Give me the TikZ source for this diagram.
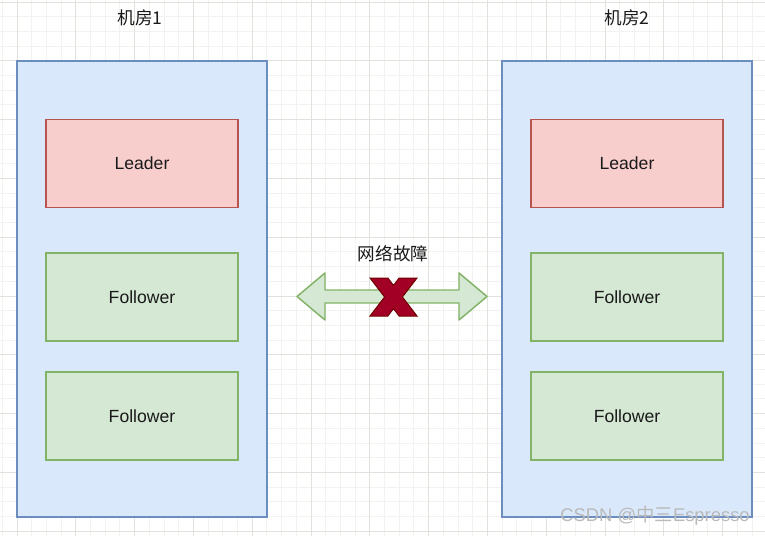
\documentclass[tikz,border=0pt]{standalone}
\usepackage{fontspec}
\setmainfont{Liberation Sans}
\newfontfamily\cjk{Noto Sans CJK SC}
\usetikzlibrary{positioning}
\definecolor{roomfill}{HTML}{DAE8FC}
\definecolor{roomline}{HTML}{6C8EBF}
\definecolor{ldrfill}{HTML}{F8CECC}
\definecolor{ldrline}{HTML}{B85450}
\definecolor{flwfill}{HTML}{D5E8D4}
\definecolor{flwline}{HTML}{82B366}
\definecolor{xfill}{HTML}{A20025}
\definecolor{xline}{HTML}{6F0000}
\definecolor{gridminor}{HTML}{F2F2EF}
\definecolor{gridmajor}{HTML}{E2E2DC}
\definecolor{ink}{HTML}{1A1A1A}

\begin{document}
\begin{tikzpicture}[x=0.75pt,y=-0.75pt,font=\fontsize{13.2}{16}\selectfont,text=ink,
  room/.style={draw=roomline,fill=roomfill,line width=1.1pt,minimum width=187.5pt,minimum height=342pt},
  ldr/.style={draw=ldrline,fill=ldrfill,line width=1.1pt,minimum width=144pt,minimum height=66pt},
  flw/.style={draw=flwline,fill=flwfill,line width=1.1pt,minimum width=144pt,minimum height=66pt},
  node distance=33pt]
\useasboundingbox (0,0) rectangle (765,536);
\fill[white] (0,0) rectangle (765,536);
% grid
\foreach \k in {-1,...,51} \draw[gridminor,line width=0.75pt] (17+\k*14.7,0) -- (17+\k*14.7,536);
\foreach \k in {0,...,36} \draw[gridminor,line width=0.75pt] (0,2+\k*14.7) -- (765,2+\k*14.7);
\foreach \k in {0,4,...,48} \draw[gridmajor,line width=0.75pt] (17+\k*14.7,0) -- (17+\k*14.7,536);
\foreach \k in {0,4,...,36} \draw[gridmajor,line width=0.75pt] (0,2+\k*14.7) -- (765,2+\k*14.7);
% room 1
\node[room] (r1) at (142,289) {};
\node (t1) at (140,18) {\cjk 机房1};
\node[ldr,below=44pt of r1.north] (l1) {Leader};
\node[flw,below=of l1] (f1) {Follower};
\node[flw,below=22pt of f1] (g1) {Follower};
% room 2
\node[room] (r2) at (627,289) {};
\node (t2) at (627,18) {\cjk 机房2};
\node[ldr,below=44pt of r2.north] (l2) {Leader};
\node[flw,below=of l2] (f2) {Follower};
\node[flw,below=22pt of f2] (g2) {Follower};
% link down
\node (net) at (393,254) {\cjk 网络故障};
\coordinate (al) at (297,296.5);
\coordinate (ar) at (487,296.5);
\draw[draw=flwline,fill=flwfill,line width=1.1pt,line join=round] (al) -- (325,273) -- (325,290) -- (459,290) -- (459,273) -- (ar) -- (459,320) -- (459,303) -- (325,303) -- (325,320) -- cycle;
\draw[draw=xline,fill=xfill,line width=0.75pt] (370,278) -- (387.9,278) -- (393.5,285.4) -- (399.1,278) -- (417,278) -- (402.4,297) -- (417,316) -- (399.1,316) -- (393.5,308.6) -- (387.9,316) -- (370,316) -- (384.6,297) -- cycle;
\node[text=gray!55,font=\fontsize{13.8}{16}\selectfont] (wm) at (655,516) {CSDN @{\cjk 中三}Espresso};
\end{tikzpicture}
\end{document}
